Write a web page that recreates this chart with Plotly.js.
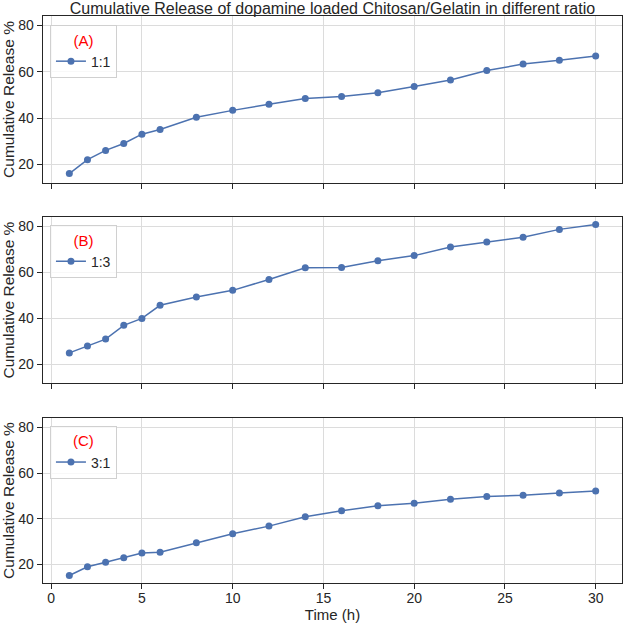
<!DOCTYPE html>
<html>
<head>
<meta charset="utf-8">
<script src="https://cdn.plot.ly/plotly-3.0.1.min.js"></script>
<style>html,body{margin:0;padding:0;background:#fff;}#chart{width:625px;height:623px;}</style>
</head>
<body>
<div id="chart"></div>
<script>
const time = [1, 2, 3, 4, 5, 6, 8, 10, 12, 14, 16, 18, 20, 22, 24, 26, 28, 30];
const releaseA = [16, 22, 26, 29, 33, 35, 40.3, 43.3, 45.9, 48.4, 49.3, 50.9, 53.6, 56.4, 60.5, 63.3, 65, 66.8];
const releaseB = [25, 28, 31, 37, 40, 45.7, 49.3, 52.2, 56.9, 62, 62.1, 65.1, 67.3, 71, 73.2, 75.3, 78.7, 80.8];
const releaseC = [15.2, 19, 21, 23, 25, 25.4, 29.5, 33.5, 36.8, 40.9, 43.5, 45.7, 46.8, 48.6, 49.7, 50.3, 51.3, 52.1];
const seriesNames = ["1:1", "1:3", "3:1"];
const panelLabels = ["(A)", "(B)", "(C)"];
const xTicks = [0, 5, 10, 15, 20, 25, 30];
const yTicks = [20, 40, 60, 80];

const blue = "#4C72B0";
const font = "Liberation Sans, Arial, sans-serif";
const dark = "#262626";

const datasets = [releaseA, releaseB, releaseC];
const axisIds = ["", "2", "3"];

const traces = datasets.map((vals, i) => ({
  x: time, y: vals, type: "scatter", mode: "lines+markers",
  name: seriesNames[i],
  xaxis: "x" + axisIds[i], yaxis: "y" + axisIds[i],
  legend: "legend" + axisIds[i],
  line: {color: blue, width: 1.5},
  marker: {color: blue, size: 7}
}));

// shared y range with 5% margins like matplotlib autoscale
let ymin = Infinity, ymax = -Infinity;
datasets.forEach(a => a.forEach(v => { if (v < ymin) ymin = v; if (v > ymax) ymax = v; }));
const yr = ymax - ymin;
const yRange = [ymin - 0.05 * yr, ymax + 0.05 * yr];
const xr = time[time.length - 1] - time[0];
const xRange = [time[0] - 0.05 * xr, time[time.length - 1] + 0.05 * xr];

// plot area: y 16..583 px
const domains = [[0.7055, 1], [0.3527, 0.6455], [0, 0.291]];
const legendTops = [0.984, 0.631, 0.277];

const layout = {
  width: 625, height: 623,
  margin: {l: 43, r: 3, t: 16, b: 40},
  paper_bgcolor: "#fff", plot_bgcolor: "#fff",
  font: {family: font, size: 14, color: dark},
  showlegend: true,
  title: {text: "Cumulative Release of dopamine loaded Chitosan/Gelatin in different ratio",
          font: {family: font, size: 16, color: dark},
          x: 0.532, xanchor: "center", y: 0.987, yanchor: "middle", yref: "container"}
};

for (let i = 0; i < 3; i++) {
  const id = axisIds[i];
  layout["xaxis" + id] = {
    domain: [0, 1], anchor: "y" + id, range: xRange,
    tickvals: xTicks, showticklabels: i === 2,
    ticks: "outside", ticklen: 5, tickwidth: 1, tickcolor: dark,
    ticklabelstandoff: -3,
    showgrid: true, gridcolor: "#dcdcdc", gridwidth: 1,
    showline: true, linecolor: dark, linewidth: 1.3, mirror: true,
    zeroline: false,
    tickfont: {family: font, size: 14, color: dark},
    title: i === 2 ? {text: "Time (h)", font: {family: font, size: 15, color: dark}, standoff: 2} : {text: ""}
  };
  if (i > 0) layout["xaxis" + id].matches = "x";
  layout["yaxis" + id] = {
    domain: domains[i], anchor: "x" + id, range: yRange,
    tickvals: yTicks,
    ticks: "outside", ticklen: 5, tickwidth: 1, tickcolor: dark,
    showgrid: true, gridcolor: "#dcdcdc", gridwidth: 1,
    showline: true, linecolor: dark, linewidth: 1.3, mirror: true,
    zeroline: false,
    tickfont: {family: font, size: 14, color: dark},
    title: {text: "Cumulative Release %", font: {family: font, size: 15.5, color: dark}, standoff: 3}
  };
  layout["legend" + id] = {
    x: 0.012, y: legendTops[i], xanchor: "left", yanchor: "top",
    xref: "paper", yref: "paper",
    bgcolor: "rgba(255,255,255,0.8)", bordercolor: "#d0d0d0", borderwidth: 1,
    font: {family: font, size: 14, color: dark},
    title: {text: panelLabels[i], side: "top center", font: {family: font, size: 15, color: "#ff0000"}},
    itemwidth: 30
  };
}

Plotly.newPlot("chart", traces, layout, {displayModeBar: false, staticPlot: true});
</script>
</body>
</html>
